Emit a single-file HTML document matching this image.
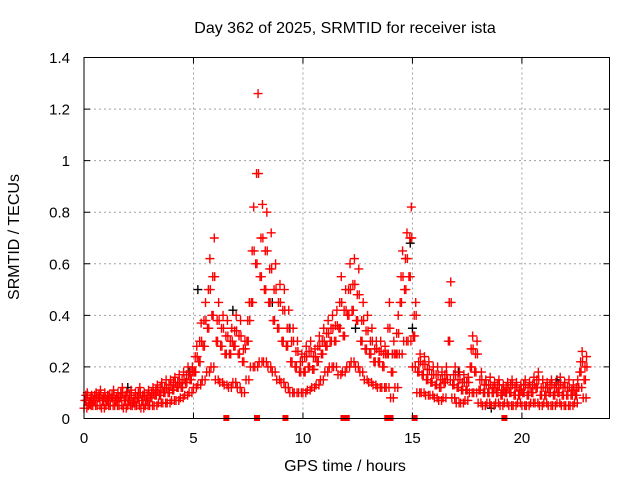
<!DOCTYPE html>
<html><head><meta charset="utf-8"><style>
body{margin:0;background:#fff}
svg text{font-family:"Liberation Sans",sans-serif;font-size:15px;fill:#000}
svg text.lbl{font-size:16px}
</style></head><body>
<svg id="chart" width="640" height="480" xmlns="http://www.w3.org/2000/svg">
<rect width="640" height="480" fill="#fff"/>
<text class="lbl" x="345" y="33" text-anchor="middle">Day 362 of 2025, SRMTID for receiver ista</text>
<text class="lbl" transform="translate(19,237) rotate(-90)" text-anchor="middle">SRMTID / TECUs</text>
<text class="lbl" x="345" y="471" text-anchor="middle">GPS time / hours</text>
<g id="grid"></g>
<g id="marks"></g>
<rect x="84" y="57.5" width="525.5" height="361" fill="none" stroke="#000" stroke-width="1"/>
<g id="ticks"></g>
</svg>
<script>
const xTicks=[0,5,10,15,20];
const yTicks=[0,0.2,0.4,0.6,0.8,1,1.2,1.4];
const yTickLabels=["0","0.2","0.4","0.6","0.8","1","1.2","1.4"];
const stepHours=0.2;
const hiVals=[0.1,0.09,0.1,0.11,0.1,0.09,0.11,0.1,0.12,0.1,0.11,0.1,0.12,0.1,0.11,
0.12,0.13,0.14,0.15,0.15,0.16,0.17,0.18,0.2,0.2,
0.28,0.37,0.45,0.62,0.7,
0.45,0.4,0.38,
0.35,0.4,0.38,0.3,
0.45,0.82,1.26,0.83,0.8,0.72,0.6,0.52,0.5,0.42,0.35,0.3,0.25,
0.28,0.3,0.27,0.32,0.35,
0.38,0.4,0.42,0.55,0.5,
0.6,0.62,0.58,0.45,0.4,0.35,
0.3,0.3,0.28,0.45,
0.3,0.4,0.65,0.72,0.82,0.45,
0.25,0.24,0.22,0.2,
0.2,0.18,0.2,0.53,0.2,
0.18,0.17,0.16,0.32,0.3,
0.18,0.15,0.16,0.14,0.15,0.13,0.14,0.15,0.14,0.13,0.15,0.14,0.16,
0.18,
0.15,0.14,0.15,0.14,0.16,0.14,0.15,0.13,
0.15,0.26,0.24];
const upVals=[0.09,0.08,0.09,0.09,0.08,0.09,0.09,0.08,0.1,0.09,0.09,0.08,0.1,0.09,0.09,
0.1,0.11,0.12,0.12,0.13,0.14,0.14,0.15,0.17,0.18,
0.24,0.3,0.38,0.5,0.55,
0.38,0.35,0.32,
0.3,0.34,0.32,0.27,
0.38,0.65,0.95,0.7,0.65,0.58,0.5,0.45,0.42,0.35,0.3,0.26,0.22,
0.24,0.26,0.24,0.28,0.3,
0.33,0.35,0.36,0.45,0.42,
0.5,0.52,0.48,0.38,0.34,0.3,
0.27,0.26,0.25,0.35,
0.25,0.33,0.55,0.62,0.7,0.4,
0.22,0.21,0.19,0.17,
0.17,0.15,0.17,0.45,0.17,
0.15,0.14,0.14,0.27,0.25,
0.15,0.13,0.13,0.12,0.13,0.11,0.12,0.13,0.12,0.11,0.13,0.12,0.13,
0.15,
0.12,0.12,0.13,0.12,0.13,0.12,0.12,0.11,
0.12,0.22,0.2];
const midVals=[0.07,0.06,0.07,0.08,0.07,0.07,0.08,0.07,0.08,0.07,0.07,0.06,0.08,0.07,0.07,
0.08,0.09,0.09,0.1,0.1,0.11,0.12,0.12,0.14,0.15,
0.18,0.22,0.28,0.35,0.4,
0.3,0.28,0.25,
0.25,0.28,0.25,0.22,
0.3,0.45,0.6,0.55,0.5,0.45,0.38,0.35,0.3,0.28,0.22,0.2,0.18,
0.18,0.2,0.19,0.22,0.25,
0.28,0.3,0.3,0.35,0.32,
0.4,0.42,0.38,0.3,0.27,0.25,
0.22,0.22,0.2,0.25,
0.18,0.25,0.45,0.5,0.55,0.32,
0.18,0.17,0.15,0.14,
0.13,0.12,0.14,0.3,0.13,
0.12,0.11,0.11,0.2,0.18,
0.11,0.1,0.1,0.1,0.1,0.09,0.1,0.1,0.09,0.09,0.1,0.09,0.1,
0.12,
0.09,0.09,0.1,0.09,0.1,0.09,0.09,0.09,
0.09,0.18,0.15];
const loVals=[0.04,0.05,0.05,0.05,0.04,0.05,0.05,0.05,0.05,0.04,0.05,0.05,0.05,0.04,0.05,
0.05,0.05,0.06,0.06,0.06,0.07,0.07,0.08,0.09,0.1,
0.12,0.13,0.15,0.18,0.2,
0.15,0.14,0.13,
0.12,0.14,0.12,0.1,
0.15,0.2,0.2,0.22,0.22,0.2,0.18,0.15,0.14,0.12,0.1,0.1,0.1,
0.1,0.11,0.12,0.13,0.15,
0.18,0.2,0.2,0.17,0.18,
0.2,0.22,0.2,0.18,0.15,0.14,
0.13,0.12,0.12,0.12,
0.08,0.12,0.25,0.3,0.3,0.2,
0.1,0.1,0.09,0.09,
0.08,0.07,0.08,0.15,0.08,
0.06,0.06,0.07,0.1,0.1,
0.06,0.05,0.06,0.05,0.06,0.05,0.06,0.05,0.05,0.06,0.05,0.05,0.06,
0.06,
0.05,0.06,0.05,0.05,0.06,0.05,0.05,0.05,
0.06,0.12,0.08];
const blackTimes=[2.0,4.8,5.2,6.8,8.6,9.4,12.4,14.9,15.0,17.1,18.6,21.6];
const blackVals=[0.12,0.18,0.5,0.42,0.45,0.35,0.35,0.68,0.35,0.18,0.04,0.15];
const flagTimes=[6.5,7.9,9.2,11.85,12.0,13.85,14.0,15.1,19.2];

const X0=84,XW=525.5,XMAX=24,Y0=418.5,YH=361,YMAX=1.4;
function xs(t){return X0+t/XMAX*XW;}
function ys(v){return Y0-v/YMAX*YH;}
const NS="http://www.w3.org/2000/svg";
const grid=document.getElementById('grid'),ticks=document.getElementById('ticks'),marks=document.getElementById('marks');
function mk(tag,attrs,parent){const e=document.createElementNS(NS,tag);for(const k in attrs)e.setAttribute(k,attrs[k]);parent.appendChild(e);return e;}
xTicks.forEach((t,i)=>{
  const x=xs(t);
  if(i>0){const g=mk('line',{x1:x,x2:x,y1:57.5,y2:418.5,stroke:'#a0a0a0','stroke-dasharray':'2,3'},grid);
  
  }
  const tk=mk('path',{d:`M${x},418.5v-6M${x},57.5v6`,stroke:'#000'},ticks);
  
  
  const lb=mk('text',{x:x,y:443,'text-anchor':'middle'},ticks);lb.textContent=String(t);
  
  
});
yTicks.forEach((v,i)=>{
  const y=ys(v);
  if(i>0&&i<yTicks.length-1){const g=mk('line',{x1:84,x2:609.5,y1:y,y2:y,stroke:'#a0a0a0','stroke-dasharray':'2,3'},grid);
  
  }
  const tk=mk('path',{d:`M84,${y}h6M609.5,${y}h-6`,stroke:'#000'},ticks);
  
  
  const lb=mk('text',{x:70,y:y+5.5,'text-anchor':'end'},ticks);lb.textContent=yTickLabels[i];
  
  
});
function cross(t,v,col){
  const x=xs(t),y=ys(v);
  const p=mk('path',{d:`M${x-4.5},${y}h9M${x},${y-4.5}v9`,stroke:col,'stroke-width':1.4},marks);
  
  
}
blackTimes.forEach((t,i)=>cross(t,blackVals[i],'#000'));
for(let i=0;i<hiVals.length;i++){
  const t=i*stepHours;
  cross(t,loVals[i],'#f00');
  cross(t+0.04,midVals[i],'#f00');
  cross(t+0.08,upVals[i],'#f00');
  cross(t+0.1,midVals[i],'#f00');
  cross(t+0.13,loVals[i],'#f00');
  cross(t+0.15,hiVals[i],'#f00');
  cross(t+0.17,upVals[i],'#f00');
}
flagTimes.forEach(t=>{
  const r=mk('rect',{x:xs(t)-3,y:415,width:6,height:6,fill:'#f00'},marks);
  
  
});
</script>
</body></html>
